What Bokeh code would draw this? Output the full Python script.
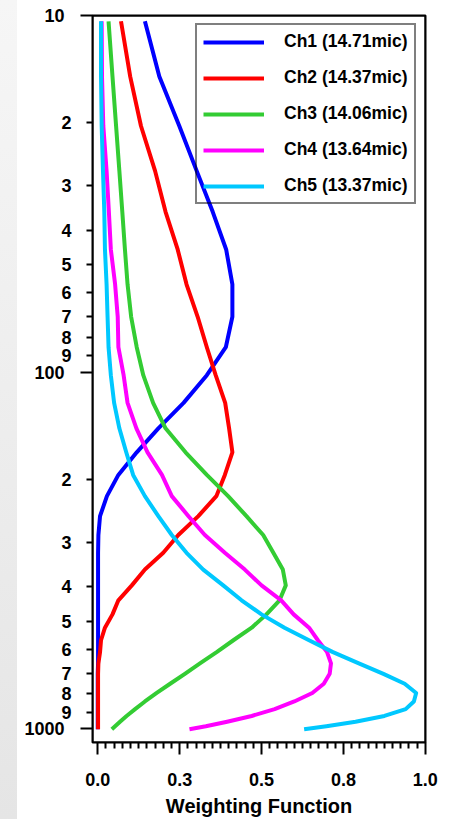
import math
from bokeh.plotting import figure
from bokeh.models import (Range1d, FixedTicker, LinearAxis, InlineStyleSheet,
                          BoxAnnotation, Whisker, ColumnDataSource)
from bokeh.embed import file_html
from bokeh.resources import INLINE

# ---------------- data ----------------
pressure = [10.37, 14.81, 20.40, 27.26, 35.51, 45.29, 56.73, 69.97, 85.18, 102.05,
            122.04, 143.84, 167.95, 194.36, 222.94, 253.71, 286.60, 321.50, 358.28, 396.81,
            436.95, 478.54, 521.46, 565.54, 610.60, 656.43, 702.73, 749.12, 795.09, 839.95,
            882.80, 922.46, 957.44, 985.88, 1005.43]

ch1 = [0.144, 0.188, 0.249, 0.302, 0.351, 0.392, 0.411, 0.411, 0.391, 0.333,
       0.262, 0.185, 0.119, 0.063, 0.028, 0.007, 0.002, 0.001, 0.001, 0.001,
       0.001, 0.001, 0.001, 0.001, 0.001, 0.001, 0.000, 0.000, 0.000, 0.000,
       0.000, 0.000, 0.000, 0.000, 0.000]
ch2 = [0.071, 0.099, 0.132, 0.175, 0.207, 0.244, 0.271, 0.305, 0.333, 0.360,
       0.389, 0.401, 0.411, 0.388, 0.362, 0.307, 0.246, 0.200, 0.144, 0.104,
       0.063, 0.045, 0.022, 0.010, 0.007, 0.002, 0.001, 0.001, 0.001, 0.001,
       0.001, 0.001, 0.001, 0.001, 0.001]
ch3 = [0.033, 0.045, 0.056, 0.066, 0.075, 0.083, 0.091, 0.102, 0.119, 0.139,
       0.169, 0.207, 0.268, 0.333, 0.398, 0.454, 0.505, 0.536, 0.565, 0.574,
       0.555, 0.515, 0.470, 0.414, 0.363, 0.312, 0.266, 0.221, 0.180, 0.144,
       0.114, 0.088, 0.068, 0.053, 0.043]
ch4 = [0.012, 0.013, 0.017, 0.027, 0.034, 0.040, 0.053, 0.061, 0.063, 0.079,
       0.091, 0.118, 0.152, 0.196, 0.226, 0.277, 0.327, 0.388, 0.449, 0.500,
       0.560, 0.598, 0.645, 0.672, 0.700, 0.712, 0.708, 0.690, 0.655, 0.600,
       0.540, 0.470, 0.395, 0.330, 0.280]
ch5 = [0.010, 0.010, 0.012, 0.016, 0.020, 0.022, 0.027, 0.030, 0.033, 0.040,
       0.050, 0.066, 0.087, 0.108, 0.144, 0.185, 0.226, 0.271, 0.322, 0.383,
       0.439, 0.500, 0.570, 0.645, 0.718, 0.797, 0.872, 0.937, 0.972, 0.965,
       0.940, 0.875, 0.787, 0.698, 0.630]

series_names = ["Ch1 (14.71mic)", "Ch2 (14.37mic)", "Ch3 (14.06mic)",
                "Ch4 (13.64mic)", "Ch5 (13.37mic)"]
series_colors = ["#0000FF", "#FF0000", "#33CC33", "#FF00FF", "#00C8FF"]

x_ticks = [0.0, 0.25, 0.5, 0.75, 1.0]
x_tick_labels = ["0.0", "0.3", "0.5", "0.8", "1.0"]
y_decade_ticks = [10, 100, 1000]
y_decade_labels = ["10", "100", "1000"]
y_sub_ticks = [20, 30, 40, 50, 60, 70, 80, 90, 200, 300, 400, 500, 600, 700, 800, 900]
y_sub_labels = ["2", "3", "4", "5", "6", "7", "8", "9", "2", "3", "4", "5", "6", "7", "8", "9"]
x_label = "Weighting Function"
p_top, p_bottom = 9.99, 1095

FONT = "Liberation Sans"
X0, X1 = -0.016, 1.0005
FRAME_W, FRAME_H = 333, 727


def ylog(v):
    # pressure axis: logarithmic, pressure increasing downwards
    return -math.log10(v)


y_pos = [ylog(v) for v in pressure]
sub_pos = [ylog(v) for v in y_sub_ticks]
dec_pos = [ylog(v) for v in y_decade_ticks]
Y0, Y1 = ylog(p_bottom), ylog(p_top)
x_minor = [i / 40 for i in range(41) if i % 10]

p = figure(width=461, height=819, title=None,
           x_range=Range1d(X0, X1), y_range=Range1d(Y0, Y1),
           output_backend="svg", toolbar_location=None,
           min_border_left=92, min_border_right=36, min_border_top=15,
           min_border_bottom=77)
p.grid.visible = False
p.outline_line_color = "black"
p.outline_line_width = 2
p.background_fill_color = "white"
p.border_fill_alpha = 0.0
p.stylesheets = [InlineStyleSheet(css=(
    ":host { background: "
    "linear-gradient(to right, rgba(255,255,255,0) 0px, rgba(255,255,255,0) 17px, #ffffff 17px), "
    "linear-gradient(to bottom, #f6f6f6, #e5e5e5); }"))]

for vals, name, col in zip([ch1, ch2, ch3, ch4, ch5], series_names, series_colors):
    p.line(vals, y_pos, line_color=col, line_width=4, legend_label=name,
           line_join="round")

# x axis
xa = p.xaxis[0]
xa.ticker = FixedTicker(ticks=x_ticks, minor_ticks=x_minor)
xa.major_label_overrides = dict(zip(x_ticks, x_tick_labels))
xa.axis_line_color = None
xa.major_tick_in = 0
xa.major_tick_out = 12
xa.minor_tick_in = 0
xa.minor_tick_out = 6
xa.major_tick_line_width = 2
xa.minor_tick_line_width = 2
xa.major_tick_line_color = "black"
xa.minor_tick_line_color = "black"
xa.major_label_standoff = 18
xa.major_label_text_font = FONT
xa.major_label_text_font_style = "bold"
xa.major_label_text_font_size = "18px"
xa.major_label_text_color = "black"
xa.axis_label = x_label
xa.axis_label_text_font = FONT
xa.axis_label_text_font_style = "bold"
xa.axis_label_text_font_size = "20px"
xa.axis_label_text_color = "black"
xa.axis_label_standoff = 6

# y axis (inner): labelled sub-decade ticks (short) + long decade ticks
ya = p.yaxis[0]
ya.ticker = FixedTicker(ticks=sub_pos, minor_ticks=dec_pos)
ya.major_label_overrides = dict(zip(sub_pos, y_sub_labels))
ya.axis_line_color = None
ya.major_tick_in = 0
ya.major_tick_out = 6
ya.minor_tick_in = 0
ya.minor_tick_out = 12
ya.major_tick_line_width = 2
ya.minor_tick_line_width = 2
ya.major_tick_line_color = "black"
ya.minor_tick_line_color = "black"
ya.major_label_standoff = 9
ya.major_label_text_font = FONT
ya.major_label_text_font_style = "bold"
ya.major_label_text_font_size = "18px"
ya.major_label_text_color = "black"

# y axis (outer): decade labels only
yd = LinearAxis(ticker=FixedTicker(ticks=dec_pos, minor_ticks=[]),
                major_label_overrides=dict(zip(dec_pos, y_decade_labels)),
                axis_line_color=None, major_tick_in=0, major_tick_out=0,
                minor_tick_in=0, minor_tick_out=0,
                major_tick_line_color=None, minor_tick_line_color=None,
                major_label_standoff=-6,
                major_label_text_font=FONT, major_label_text_font_style="bold",
                major_label_text_font_size="18px", major_label_text_color="black")
p.add_layout(yd, "left")

# frame border drawn as an annotation as well (same place as the outline)
p.add_layout(BoxAnnotation(fill_color=None, fill_alpha=0.0, line_color="black",
                           line_alpha=1.0, line_width=2))

# tick marks drawn as whisker annotations at the axis tick positions
px_x = (X1 - X0) / FRAME_W
px_y = (Y1 - Y0) / FRAME_H


def tick_marks(positions, length_px, horizontal):
    if horizontal:
        src = ColumnDataSource(dict(base=positions,
                                    lower=[X0 - length_px * px_x] * len(positions),
                                    upper=[X0] * len(positions)))
        dim = "width"
    else:
        src = ColumnDataSource(dict(base=positions,
                                    lower=[Y0 - length_px * px_y] * len(positions),
                                    upper=[Y0] * len(positions)))
        dim = "height"
    w = Whisker(source=src, base="base", lower="lower", upper="upper",
                dimension=dim, lower_head=None, upper_head=None,
                line_color="black", line_width=2)
    p.add_layout(w)


tick_marks(sub_pos, 6, True)
tick_marks(dec_pos, 12, True)
tick_marks(x_ticks, 12, False)
tick_marks(x_minor, 6, False)

lg = p.legend[0]
lg.location = (103, 538)
lg.border_line_color = "black"
lg.border_line_width = 2
lg.background_fill_alpha = 0.0
lg.padding = 6
lg.spacing = 15
lg.glyph_width = 61
lg.glyph_height = 20
lg.label_height = 20
lg.label_standoff = 20
lg.label_text_font = FONT
lg.label_text_font_style = "bold"
lg.label_text_font_size = "17.5px"
lg.label_text_color = "black"

open("out.html", "w").write(file_html(p, INLINE))
